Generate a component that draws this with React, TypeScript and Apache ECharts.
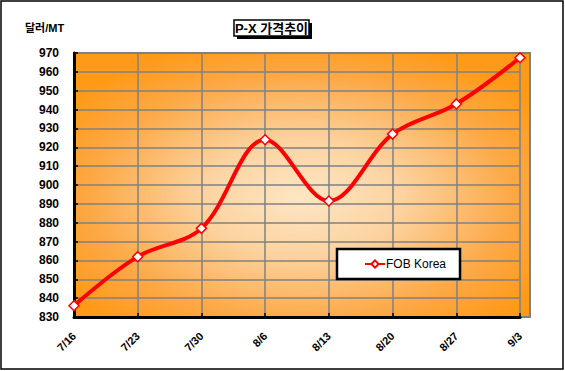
import React, { useEffect, useRef } from "react";
import * as echarts from "echarts";

const categories = ["7/16", "7/23", "7/30", "8/6", "8/13", "8/20", "8/27", "9/3"];
const fobKorea = [836, 862, 877, 924, 891.5, 927, 943, 967.5];
const yMin = 830;
const yMax = 970;
const yStep = 10;

const FONT = "'Liberation Sans', Arial, 'Noto Sans CJK KR', sans-serif";

export default function App() {
  const ref = useRef<HTMLDivElement>(null);
  useEffect(() => {
    if (!ref.current) return;
    const chart = echarts.init(ref.current, undefined, { renderer: "svg" });
    const L = 74, T = 53, R = 520, B = 317;
    chart.setOption({
      animation: false,
      backgroundColor: "#ffffff",
      grid: { left: L, top: T, width: R - L, height: B - T },
      graphic: [
        {
          type: "rect",
          z: -10,
          shape: { x: L, y: T, width: 530 - L, height: B - T },
          style: {
            fill: new echarts.graphic.RadialGradient(0.5, 0.55, 0.62, [
              { offset: 0, color: "#fde6c4" },
              { offset: 0.35, color: "#fcd3a0" },
              { offset: 0.75, color: "#fca845" },
              { offset: 1, color: "#ff9a18" },
            ]),
            stroke: "#808080",
            lineWidth: 2,
          },
        },
        {
          type: "rect",
          z: -9,
          shape: { x: 1, y: 1, width: 562, height: 368 },
          style: { fill: "none", stroke: "#000", lineWidth: 1.5 },
          silent: true,
        },
        {
          type: "rect",
          shape: { x: 237, y: 23, width: 75, height: 16 },
          style: { fill: "#000" },
        },
        {
          type: "rect",
          shape: { x: 234, y: 20, width: 75, height: 16 },
          style: { fill: "#fff", stroke: "#000", lineWidth: 1.5 },
        },
        {
          type: "text",
          x: 271.5,
          y: 28,
          style: {
            text: "P-X 가격추이",
            font: "bold 13px " + FONT,
            fill: "#000",
            align: "center",
            verticalAlign: "middle",
          },
        },
        {
          type: "text",
          x: 25,
          y: 28,
          style: {
            text: "달러/MT",
            font: "bold 11px " + FONT,
            fill: "#000",
            align: "left",
            verticalAlign: "middle",
          },
        },
      ],
      legend: {
        left: 337,
        top: 249,
        width: 120,
        padding: [9, 14, 9, 27],
        backgroundColor: "#fff",
        borderColor: "#000",
        borderWidth: 2.5,
        borderRadius: 0,
        itemWidth: 20,
        itemHeight: 9,
        itemGap: 0,
        textStyle: { fontFamily: FONT, fontSize: 12, color: "#000", padding: [0, 0, 0, -4] },
        data: ["FOB Korea"],
      },
      xAxis: {
        type: "category",
        data: categories,
        boundaryGap: false,
        axisLine: { lineStyle: { color: "#000", width: 3 } },
        axisTick: { show: true, inside: true, length: 4, lineStyle: { color: "#000", width: 1.5 } },
        splitLine: { show: true, lineStyle: { color: "#808080", width: 1.5 } },
        axisLabel: {
          rotate: 45,
          fontFamily: FONT,
          fontSize: 11,
          fontWeight: "bold",
          color: "#000",
          margin: 17,
        },
      },
      yAxis: {
        type: "value",
        min: yMin,
        max: yMax,
        interval: yStep,
        axisLine: { show: true, lineStyle: { color: "#000", width: 3 } },
        axisTick: { show: true, inside: true, length: 4, lineStyle: { color: "#000", width: 1.5 } },
        splitLine: { show: true, lineStyle: { color: "#808080", width: 1.5 } },
        axisLabel: {
          fontFamily: FONT,
          fontSize: 12,
          fontWeight: "bold",
          color: "#000",
          margin: 15,
        },
      },
      series: [
        {
          name: "FOB Korea",
          type: "line",
          data: fobKorea,
          smooth: 0.35,
          symbol: "diamond",
          symbolSize: 10,
          lineStyle: { color: "#ff0000", width: 4 },
          itemStyle: { color: "#ffffff", borderColor: "#ff0000", borderWidth: 1.5 },
          z: 5,
        },
      ],
    });
    return () => chart.dispose();
  }, []);
  return (
    <div style={{ position: "absolute", left: 0, top: 0 }}>
      <div ref={ref} style={{ width: 565, height: 371 }} />
    </div>
  );
}
